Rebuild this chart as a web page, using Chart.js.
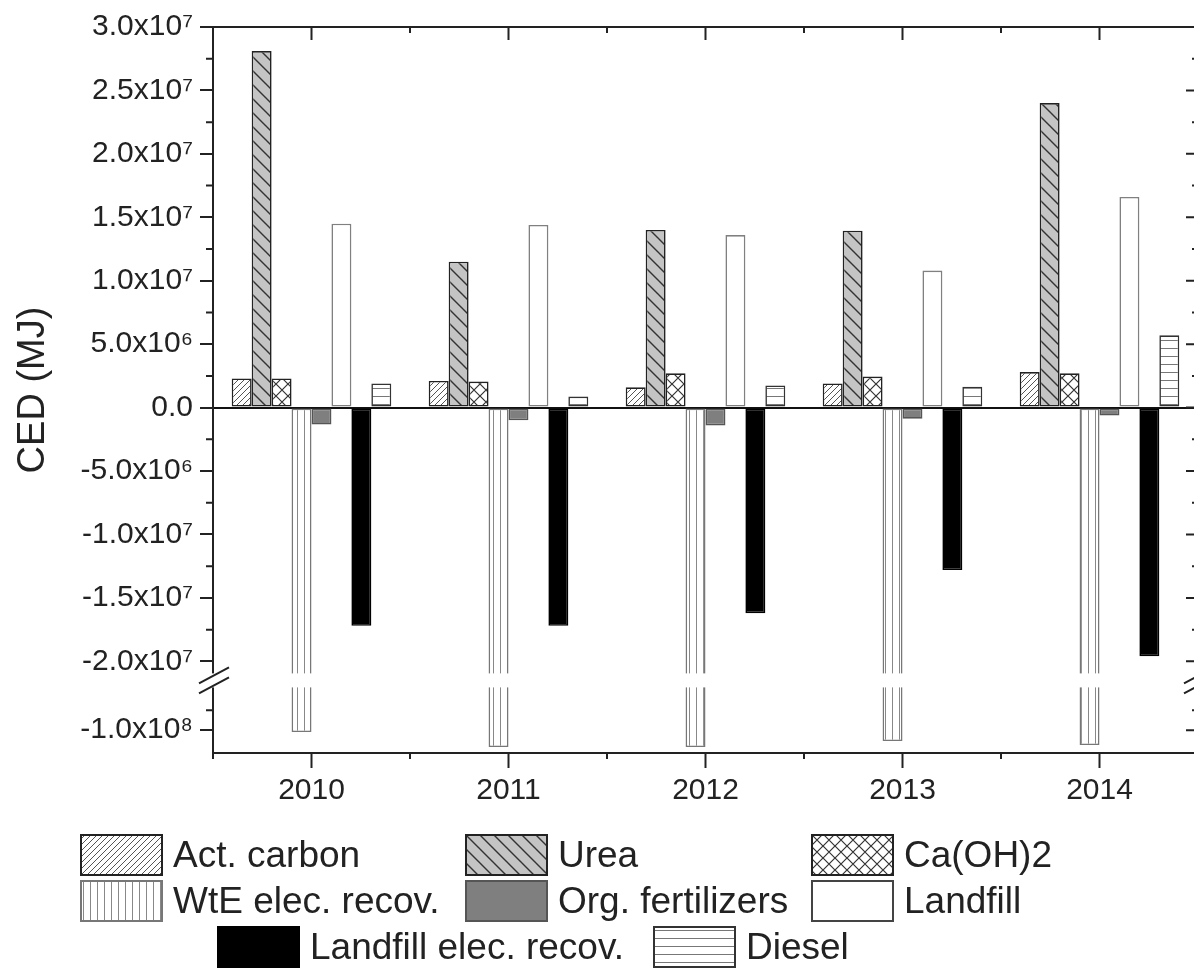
<!DOCTYPE html>
<html>
<head>
<meta charset="utf-8">
<title>CED (MJ)</title>
<script src="https://cdn.jsdelivr.net/npm/chart.js@4.4.1/dist/chart.umd.min.js"></script>
<style>
html, body { margin: 0; padding: 0; background: #fff; overflow: hidden; }
#wrap { position: relative; width: 1200px; height: 968px; }
#chart { display: block; }
#legend {
    position: absolute; left: 0; top: 834px;
    font-family: 'Liberation Sans', Arial, sans-serif; font-size: 37px; color: #222;
}
#legend .grid { display: grid; grid-template-columns: 385px 346px auto; row-gap: 4px; margin-left: 80px; }
#legend .last { display: flex; gap: 29px; margin-left: 217px; margin-top: 4px; }
#legend .item { display: flex; align-items: center; height: 42px; white-space: nowrap; }
#legend canvas { width: 83px; height: 42px; margin-right: 10px; display: block; }
</style>
</head>
<body>
<div id="wrap">
    <canvas id="chart"></canvas>
    <div id="legend"></div>
</div>
<script>
// Datos
const years = ['2010', '2011', '2012', '2013', '2014'];
const seriesNames = ['Act. carbon', 'Urea', 'Ca(OH)2', 'WtE elec. recov.', 'Org. fertilizers', 'Landfill', 'Landfill elec. recov.', 'Diesel'];

const actCarbon     = [2.3e6, 2.1e6, 1.6e6, 1.9e6, 2.8e6];
const urea          = [2.81e7, 1.15e7, 1.40e7, 1.395e7, 2.40e7];
const caOH2         = [2.3e6, 2.05e6, 2.7e6, 2.45e6, 2.7e6];
const wteRecov      = [-1.005e8, -1.0425e8, -1.0425e8, -1.0275e8, -1.0375e8];
const orgFert       = [-1.34e6, -1.0e6, -1.4e6, -0.87e6, -0.63e6];
const landfill      = [1.45e7, 1.44e7, 1.36e7, 1.08e7, 1.66e7];
const landfillRecov = [-1.72e7, -1.72e7, -1.62e7, -1.28e7, -1.96e7];
const diesel        = [1.9e6, 0.87e6, 1.75e6, 1.65e6, 5.7e6];

const seriesData = [actCarbon, urea, caOH2, wteRecov, orgFert, landfill, landfillRecov, diesel];

// Eje Y con corte
const yMajorTicks = [3.0e7, 2.5e7, 2.0e7, 1.5e7, 1.0e7, 5.0e6, 0, -5.0e6, -1.0e7, -1.5e7, -2.0e7, -1.0e8];
const yMinorTicks = [2.75e7, 2.25e7, 1.75e7, 1.25e7, 7.5e6, 2.5e6, -2.5e6, -7.5e6, -1.25e7, -1.75e7, -9.5e7];
const yMin = -1.0575e8, yMax = 3.0e7;
const breakLow = -8.75e7, breakHigh = -2.15e7;
const lowerShare = 0.1;

// Estilos de cada serie
const seriesFill   = ['fwd', 'back', 'cross', 'vert', '#7f7f7f', '#ffffff', '#000000', 'horiz'];
const seriesBorder = ['#222', '#222', '#222', '#777', '#555', '#808080', '#000', '#333'];

const FONT = "'Liberation Sans', Arial, sans-serif";
const SUP = '⁰¹²³⁴⁵⁶⁷⁸⁹';

function sciLabel(v) {
    if (v === 0) return '0.0';
    const e = Math.floor(Math.log10(Math.abs(v)) + 1e-9);
    const m = v / Math.pow(10, e);
    return m.toFixed(1) + 'x10' + String(e).split('').map(d => SUP[+d]).join('');
}

// Tramas para las barras
function makeFill(ctx, kind) {
    if (kind.charAt(0) === '#') return kind;
    const c = document.createElement('canvas');
    const g = c.getContext('2d');
    let s;
    if (kind === 'fwd') {
        s = 6; c.width = c.height = s;
        g.fillStyle = '#fff'; g.fillRect(0, 0, s, s);
        g.strokeStyle = '#555'; g.lineWidth = 1;
        g.beginPath();
        g.moveTo(-1, s + 1); g.lineTo(s + 1, -1);
        g.moveTo(-1, 1); g.lineTo(1, -1);
        g.moveTo(s - 1, s + 1); g.lineTo(s + 1, s - 1);
        g.stroke();
    } else if (kind === 'back') {
        s = 14; c.width = c.height = s;
        g.fillStyle = '#c4c4c4'; g.fillRect(0, 0, s, s);
        g.strokeStyle = '#333'; g.lineWidth = 1.4;
        g.beginPath();
        g.moveTo(-1, -1); g.lineTo(s + 1, s + 1);
        g.moveTo(s - 1, -1); g.lineTo(s + 1, 1);
        g.moveTo(-1, s - 1); g.lineTo(1, s + 1);
        g.stroke();
    } else if (kind === 'cross') {
        s = 12; c.width = c.height = s;
        g.fillStyle = '#fff'; g.fillRect(0, 0, s, s);
        g.strokeStyle = '#333'; g.lineWidth = 1.2;
        g.beginPath();
        g.moveTo(0, 0); g.lineTo(s, s);
        g.moveTo(s, 0); g.lineTo(0, s);
        g.stroke();
    } else if (kind === 'vert') {
        s = 7; c.width = c.height = s;
        g.fillStyle = '#fff'; g.fillRect(0, 0, s, s);
        g.strokeStyle = '#888'; g.lineWidth = 1;
        g.beginPath(); g.moveTo(3.5, 0); g.lineTo(3.5, s); g.stroke();
    } else if (kind === 'horiz') {
        s = 8; c.width = c.height = s;
        g.fillStyle = '#fff'; g.fillRect(0, 0, s, s);
        g.strokeStyle = '#777'; g.lineWidth = 1;
        g.beginPath(); g.moveTo(0, 4.5); g.lineTo(s, 4.5); g.stroke();
    }
    return ctx.createPattern(c, 'repeat');
}

// Escala lineal con tramo inferior comprimido
class BrokenLinearScale extends Chart.LinearScale {
    static id = 'brokenLinear';
    toDecimal(v) {
        if (v >= breakHigh) return lowerShare + (1 - lowerShare) * (v - breakHigh) / (this.max - breakHigh);
        if (v <= breakLow) return lowerShare * (v - this.min) / (breakLow - this.min);
        return lowerShare;
    }
    getPixelForValue(value) {
        if (value === null || isNaN(value)) return NaN;
        return this.getPixelForDecimal(this.toDecimal(value));
    }
    getValueForPixel(pixel) {
        const d = this.getDecimalForPixel(pixel);
        if (d >= lowerShare) return breakHigh + (d - lowerShare) / (1 - lowerShare) * (this.max - breakHigh);
        return this.min + d / lowerShare * (breakLow - this.min);
    }
}
Chart.register(BrokenLinearScale);

// Marco, marcas menores y corte del eje
const frameAndBreak = {
    id: 'frameAndBreak',
    afterDraw(chart) {
        const { ctx, chartArea: a, scales: { x, y } } = chart;
        const by = y.getPixelForDecimal(lowerShare);
        const half = (x.getPixelForValue(1) - x.getPixelForValue(0)) / 2;
        ctx.save();
        ctx.strokeStyle = '#222';
        ctx.lineWidth = 2;
        ctx.beginPath();
        ctx.moveTo(a.left, a.top); ctx.lineTo(a.right, a.top); ctx.lineTo(a.right, a.bottom);
        years.forEach((_, i) => {
            const px = x.getPixelForValue(i);
            ctx.moveTo(px, a.top); ctx.lineTo(px, a.top + 13);
        });
        for (let i = 0; i <= years.length; i++) {
            const px = x.getPixelForValue(0) - half + 2 * half * i;
            ctx.moveTo(px, a.top); ctx.lineTo(px, a.top + 6);
            ctx.moveTo(px, a.bottom); ctx.lineTo(px, a.bottom + 6);
        }
        yMajorTicks.forEach(v => {
            const py = y.getPixelForValue(v);
            ctx.moveTo(a.right, py); ctx.lineTo(a.right - 12, py);
        });
        yMinorTicks.forEach(v => {
            const py = y.getPixelForValue(v);
            ctx.moveTo(a.right, py); ctx.lineTo(a.right - 6, py);
            ctx.moveTo(a.left, py); ctx.lineTo(a.left - 7, py);
        });
        ctx.stroke();

        ctx.fillStyle = '#fff';
        ctx.fillRect(a.left - 4, by - 7, a.right - a.left + 8, 14);
        ctx.beginPath();
        [a.left, a.right].forEach(ax => {
            [-5, 5].forEach(d => {
                ctx.moveTo(ax - 14, by + d + 8);
                ctx.lineTo(ax + 16, by + d - 8);
            });
        });
        ctx.stroke();
        ctx.restore();
    }
};

const canvas = document.getElementById('chart');
const ctx = canvas.getContext('2d');

new Chart(ctx, {
    type: 'bar',
    data: {
        labels: years,
        datasets: seriesData.map((d, i) => ({
            label: seriesNames[i],
            data: d,
            backgroundColor: makeFill(ctx, seriesFill[i]),
            borderColor: seriesBorder[i],
            borderWidth: 1.6,
            borderSkipped: false,
            categoryPercentage: 0.81,
            barPercentage: 1
        }))
    },
    options: {
        responsive: true,
        maintainAspectRatio: false,
        animation: false,
        events: [],
        layout: { padding: { top: 27, right: 2, bottom: 0, left: 0 } },
        plugins: {
            legend: { display: false },
            tooltip: { enabled: false }
        },
        scales: {
            x: {
                type: 'category',
                offset: true,
                afterFit: s => { s.height = 215; },
                border: { display: true, color: '#222', width: 2 },
                grid: { drawOnChartArea: false, offset: false, tickLength: 15, tickColor: '#222', tickWidth: 2 },
                ticks: { color: '#222', padding: 5, font: { family: FONT, size: 30 } }
            },
            y: {
                type: 'brokenLinear',
                min: yMin,
                max: yMax,
                afterFit: s => { s.width = 213; },
                afterBuildTicks: s => { s.ticks = yMajorTicks.map(v => ({ value: v })); },
                border: { display: true, color: '#222', width: 2 },
                grid: {
                    drawOnChartArea: true,
                    tickLength: 13,
                    tickColor: '#222',
                    tickWidth: 2,
                    lineWidth: 2,
                    color: c => (c.tick && c.tick.value === 0) ? '#111' : 'rgba(0,0,0,0)'
                },
                ticks: {
                    autoSkip: false,
                    color: '#222',
                    padding: 7,
                    font: { family: FONT, size: 30 },
                    callback: v => sciLabel(v)
                },
                title: {
                    display: true,
                    text: 'CED (MJ)',
                    color: '#222',
                    font: { family: FONT, size: 38 },
                    padding: { top: 11, bottom: 0 }
                }
            }
        }
    },
    plugins: [frameAndBreak]
});

// Leyenda en HTML con las mismas tramas
function legendItem(i) {
    const item = document.createElement('div');
    item.className = 'item';
    const sw = document.createElement('canvas');
    sw.width = 83; sw.height = 42;
    const g = sw.getContext('2d');
    g.fillStyle = makeFill(g, seriesFill[i]);
    g.fillRect(1, 1, 81, 40);
    g.strokeStyle = seriesBorder[i] === '#808080' ? '#444' : seriesBorder[i];
    g.lineWidth = 2;
    g.strokeRect(1, 1, 81, 40);
    const txt = document.createElement('span');
    txt.textContent = seriesNames[i];
    item.appendChild(sw);
    item.appendChild(txt);
    return item;
}

const legend = document.getElementById('legend');
const grid = document.createElement('div');
grid.className = 'grid';
for (let i = 0; i < 6; i++) grid.appendChild(legendItem(i));
const last = document.createElement('div');
last.className = 'last';
last.appendChild(legendItem(6));
last.appendChild(legendItem(7));
legend.appendChild(grid);
legend.appendChild(last);
</script>
</body>
</html>
